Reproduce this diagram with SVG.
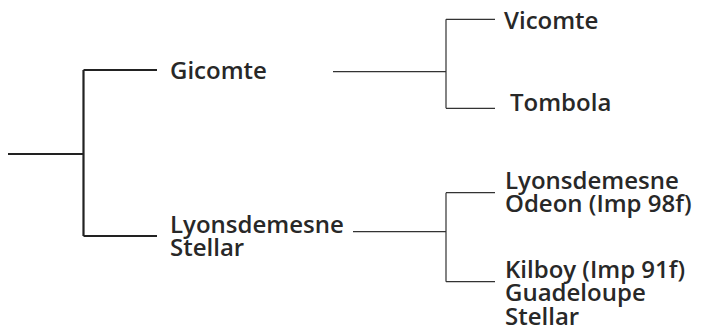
<svg xmlns="http://www.w3.org/2000/svg" width="705" height="328" viewBox="0 0 705 328">
<style>
.t{font-family:"Open Sans","Noto Sans",sans-serif;font-size:24px;font-weight:600;fill:#282828;}
.thick{stroke:#222;stroke-width:2.2;fill:none;}
.thin{stroke:#333;stroke-width:1.2;fill:none;}
</style>
<rect width="705" height="328" fill="#fff"/>
<g id="connectors">
<path class="thick" d="M8,154 H83.5 M83.5,70 V236 M83.5,70 H157 M83.5,236 H157"/>
<path class="thin" d="M333,71.7 H446 M446,19.3 V108.3 M446,19.3 H495 M446,108.3 H495"/>
<path class="thin" d="M353,231.7 H446 M446,192.7 V281.7 M446,192.7 H495 M446,281.7 H495"/>
</g>
<g id="node-gicomte"><text class="t" x="170" y="79.3">Gicomte</text></g>
<g id="node-lyonsdemesne-stellar"><text class="t" x="170" y="232.5">Lyonsdemesne<tspan x="170" dy="23.3">Stellar</tspan></text></g>
<g id="node-vicomte"><text class="t" x="504" y="29.3">Vicomte</text></g>
<g id="node-tombola"><text class="t" x="510" y="111">Tombola</text></g>
<g id="node-lyonsdemesne-odeon"><text class="t" x="505" y="189">Lyonsdemesne<tspan x="505" dy="23.3">Odeon (Imp 98f)</tspan></text></g>
<g id="node-kilboy"><text class="t" x="505" y="278">Kilboy (Imp 91f)<tspan x="505" dy="23.3">Guadeloupe</tspan><tspan x="505" dy="23.3">Stellar</tspan></text></g>
</svg>
